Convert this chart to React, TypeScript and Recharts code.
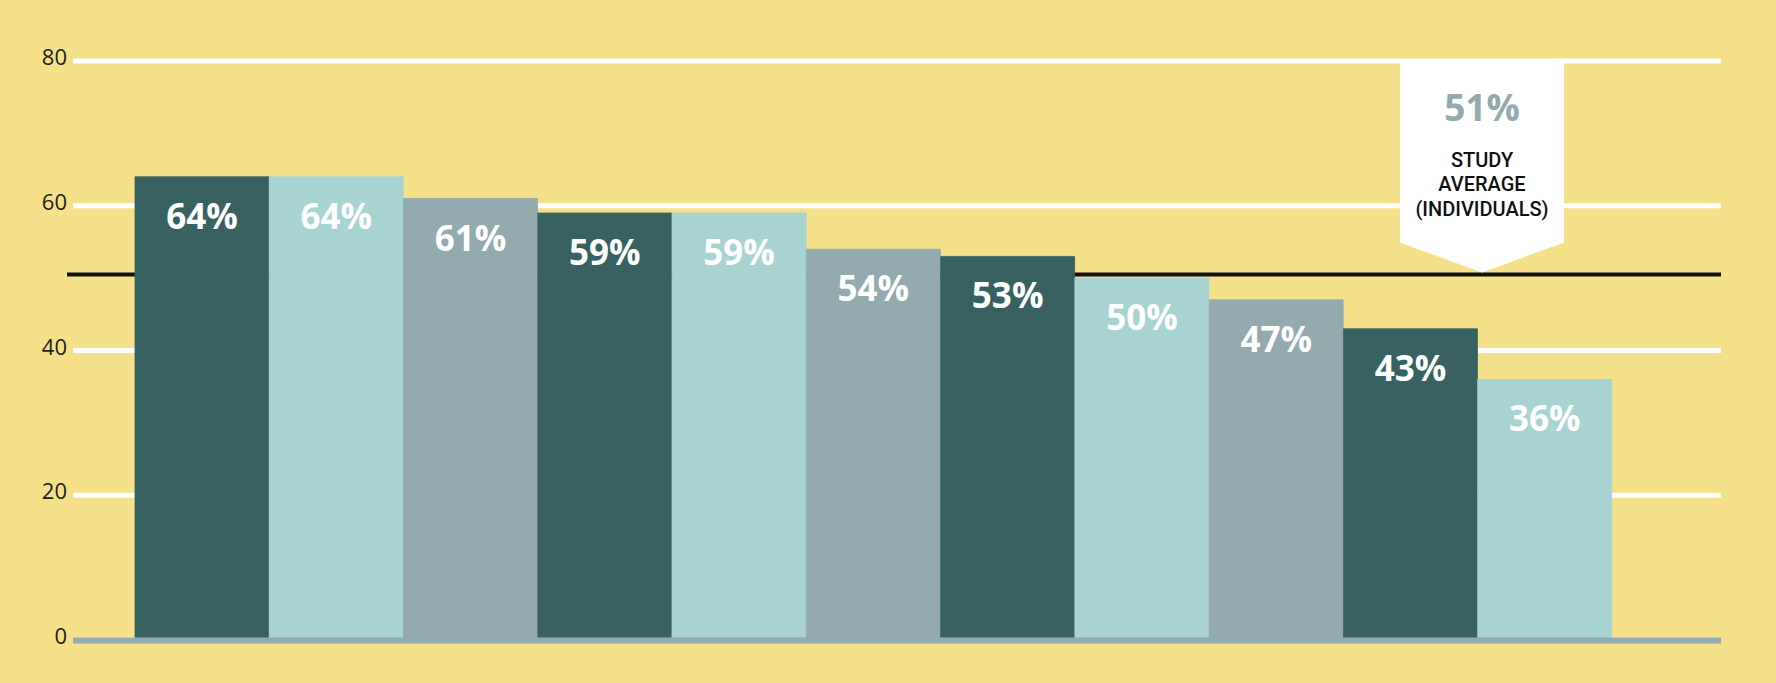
import { BarChart, Bar, XAxis, YAxis, CartesianGrid, ReferenceLine, Cell, LabelList } from "recharts";

const categories = ["A", "B", "C", "D", "E", "F", "G", "H", "I", "J", "K"];
const shares = [64, 64, 61, 59, 59, 54, 53, 50, 47, 43, 36];
const yTicks = [0, 20, 40, 60, 80];
const averageLine = 50.5;
const averageLabel = "51%";
const averageText = ["STUDY", "AVERAGE", "(INDIVIDUALS)"];

const palette = ["#386262", "#A8D3D3", "#93AAAE"];

const data = categories.map((name, i) => ({ name, value: shares[i] }));

function YTick(props: any) {
  const { x, y, payload } = props;
  return (
    <text
      x={x}
      y={y + 4}
      textAnchor="end"
      fontFamily="Open Sans"
      fontSize={22}
      fill="#222"
    >
      {payload.value}
    </text>
  );
}

function BarLabel(props: any) {
  const { x, y, width, value } = props;
  return (
    <text
      x={x + width / 2}
      y={y + 52}
      textAnchor="middle"
      fontFamily="Open Sans"
      fontWeight={700}
      fontSize={35}
      fill="#fff"
    >
      {value}%
    </text>
  );
}

function Callout(props: any) {
  const { viewBox } = props;
  const cx = viewBox.x + viewBox.width - 239;
  const tip = viewBox.y - 2;
  const top = viewBox.y - 212;
  const bottom = viewBox.y - 32;
  const hw = 82;
  const pts = `${cx - hw},${top} ${cx + hw},${top} ${cx + hw},${bottom} ${cx},${tip} ${cx - hw},${bottom}`;
  return (
    <g>
      <polygon points={pts} fill="#fff" />
      <text
        x={cx}
        y={top + 58}
        textAnchor="middle"
        fontFamily="Open Sans"
        fontWeight={700}
        fontSize={37}
        fill="#93AAAE"
      >
        {averageLabel}
      </text>
      {averageText.map((t, i) => (
        <text
          key={t}
          x={cx}
          y={top + 104 + i * 24.5}
          textAnchor="middle"
          fontFamily="Roboto"
          fontWeight={500}
          fontSize={20}
          fill="#111"
        >
          {t}
        </text>
      ))}
    </g>
  );
}

export default function App() {
  return (
    <div style={{ position: "absolute", left: 0, top: 0, width: 1776, height: 683, background: "#F5E18A" }}>
      <BarChart
        width={1776}
        height={683}
        data={data}
        margin={{ top: 61, right: 55, bottom: 43, left: 0 }}
        barCategoryGap={0}
      >
        <CartesianGrid vertical={false} stroke="#fff" strokeWidth={5} />
        {/* average line sits behind the bars, so draw it as a grid line */}
        <CartesianGrid
          vertical={false}
          horizontalValues={[averageLine]}
          horizontal={(p: any) => (
            <line key="avg" x1={p.x1 - 6} y1={p.y1} x2={p.x2} y2={p.y2} stroke="#111" strokeWidth={4} />
          )}
        />
        <XAxis dataKey="name" hide padding={{ left: 62, right: 109 }} />
        <YAxis
          domain={[0, 80]}
          ticks={yTicks}
          width={73}
          axisLine={false}
          tickLine={false}
          tickSize={0}
          tickMargin={6}
          tick={<YTick />}
        />
        <Bar dataKey="value" isAnimationActive={false}>
          {data.map((d, i) => (
            <Cell key={d.name} fill={palette[i % 3]} stroke={palette[i % 3]} strokeWidth={0.8} />
          ))}
          <LabelList dataKey="value" content={<BarLabel />} />
        </Bar>
        <ReferenceLine
          y={0}
          stroke="#93AAAE"
          strokeWidth={6}
          shape={(p: any) => (
            <line x1={p.x1} y1={p.y1 + 0.5} x2={p.x2} y2={p.y2 + 0.5} stroke="#93AAAE" strokeWidth={6} />
          )}
        />
        <ReferenceLine
          y={averageLine}
          stroke="none"
          shape={() => <g />}
          label={<Callout />}
        />
      </BarChart>
    </div>
  );
}
